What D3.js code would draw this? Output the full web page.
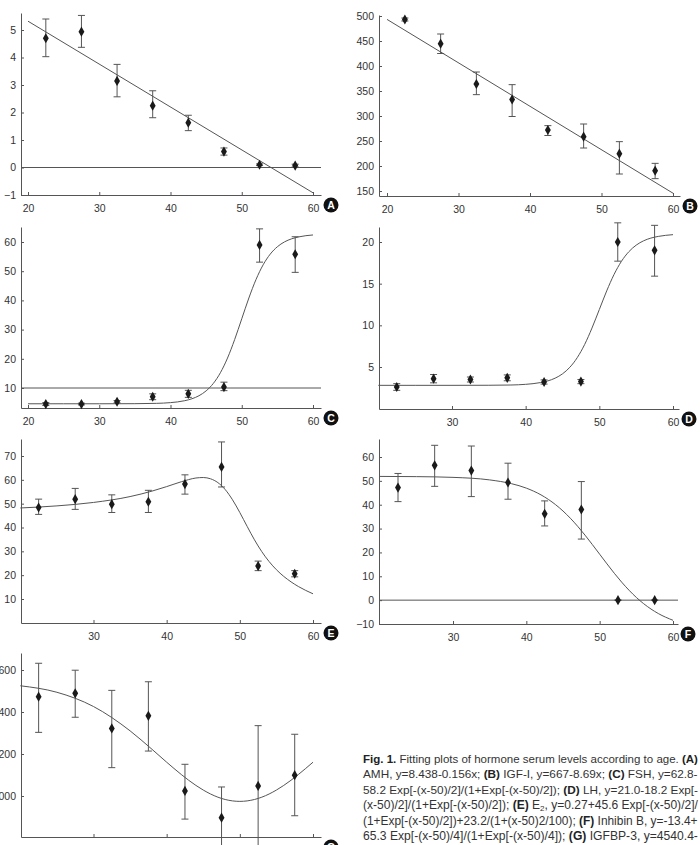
<!DOCTYPE html>
<html>
<head>
<meta charset="utf-8">
<script src="https://cdnjs.cloudflare.com/ajax/libs/d3/7.8.5/d3.min.js"></script>
<style>
body { margin: 0; background: #fff; }
svg { display: block; font-family: "Liberation Sans", Arial, sans-serif; }
</style>
</head>
<body>
<script>
// age groups (midpoints of 5-year bins)
var ages = [22.5, 27.5, 32.5, 37.5, 42.5, 47.5, 52.5, 57.5];

// (A) AMH
var amhMean = [4.70, 4.94, 3.15, 2.25, 1.63, 0.58, 0.10, 0.07];
var amhHi   = [5.40, 5.53, 3.75, 2.79, 1.90, 0.71, 0.13, 0.12];
var amhLo   = [4.03, 4.37, 2.57, 1.81, 1.34, 0.45, 0.07, 0.02];
var lineAges = [20, 60];
var amhFit  = [5.32, -0.92];

// (B) IGF-I
var igfMean = [493, 444.6, 364, 333, 272, 258.7, 224.7, 190.7];
var igfHi   = [496, 464, 388, 362.7, 280.7, 284, 248.7, 205.3];
var igfLo   = [490, 425, 342.7, 299, 261, 236, 184, 174.7];
var igfFit  = [493.2, 145.6];

var fitAges = [20, 25, 30, 35, 38, 40, 42, 43, 44, 45, 46, 47, 48, 49, 50, 51, 52, 53, 54, 55, 56, 57, 58, 60];

// (C) FSH
var fshMean = [4.5, 4.5, 5.3, 7.0, 8.0, 10.3, 59.0, 55.8];
var fshHi   = [5.0, 4.8, 5.7, 8.0, 9.2, 12.0, 64.5, 61.8];
var fshLo   = [4.0, 4.2, 4.9, 6.0, 6.8, 9.1, 53.1, 49.6];
var fshFit  = [4.60, 4.60, 4.60, 4.63, 4.74, 4.99, 5.65, 6.31, 7.36, 9.02, 11.54, 15.22, 20.25, 26.57, 33.70, 40.83, 47.15, 52.18, 55.86, 58.38, 60.04, 61.09, 61.75, 62.41];

// (D) LH
var lhMean = [2.6, 3.6, 3.5, 3.7, 3.2, 3.25, 20.0, 19.0];
var lhHi   = [3.0, 4.1, 3.8, 4.05, 3.45, 3.5, 22.3, 22.0];
var lhLo   = [2.2, 3.1, 3.2, 3.35, 2.95, 3.0, 17.7, 15.9];
var lhFit  = [2.80, 2.80, 2.80, 2.81, 2.84, 2.92, 3.13, 3.33, 3.66, 4.18, 4.97, 6.12, 7.69, 9.67, 11.90, 14.13, 16.11, 17.68, 18.83, 19.62, 20.14, 20.47, 20.67, 20.88];

// (E) E2
var e2Mean = [48.4, 51.9, 49.8, 50.8, 58.2, 65.4, 23.8, 20.6];
var e2Hi   = [51.9, 56.4, 53.7, 55.6, 62.1, 75.9, 25.9, 21.9];
var e2Lo   = [45.5, 47.6, 46.3, 46.3, 54.0, 57.0, 21.9, 19.3];
var e2Fit  = [48.19, 49.07, 50.51, 52.98, 55.27, 57.16, 59.20, 60.10, 60.77, 60.97, 60.43, 58.83, 55.92, 51.62, 46.27, 40.46, 34.84, 29.87, 25.71, 22.29, 19.49, 17.18, 15.24, 12.18];

// (F) Inhibin B
var inhMean = [47.2, 56.5, 54.3, 49.3, 36.2, 38.0, 0, 0];
var inhHi   = [53.1, 64.9, 64.6, 57.4, 41.6, 49.7, 0, 0];
var inhLo   = [41.3, 47.7, 43.4, 42.3, 31.1, 25.6, 0, 0];
var inhFit  = [51.86, 51.77, 51.46, 50.40, 48.80, 46.95, 44.12, 42.23, 39.99, 37.36, 34.34, 30.95, 27.25, 23.31, 19.25, 15.19, 11.25, 7.55, 4.16, 1.14, -1.49, -3.73, -5.62, -8.45];

// (G) IGFBP-3
var bp3Mean = [4473, 4489, 4322, 4382, 4024, 3897, 4048, 4099];
var bp3Hi   = [4632, 4599, 4503, 4544, 4151, 4043, 4335, 4294];
var bp3Lo   = [4303, 4375, 4135, 4214, 3890, 3751, 3761, 3906];
var bp3Fit  = [4524.9, 4493.9, 4426.1, 4310.3, 4222.2, 4161.0, 4102.3, 4075.1, 4050.3, 4028.3, 4009.5, 3994.4, 3983.4, 3976.7, 3974.4, 3976.7, 3983.4, 3994.4, 4009.5, 4028.3, 4050.3, 4075.1, 4102.3, 4161.0];

var xTicksFull = [20, 30, 40, 50, 60];
var xTicksShort = [30, 40, 50, 60];

var width = 700, height = 845;
var ink = "#555";

var svg = d3.select("body").append("svg")
    .attr("width", width)
    .attr("height", height);

// box = axis extent in px; xRef/yRef = two known tick positions used to calibrate the scales
var panels = [
  {key: "A", mean: amhMean, hi: amhHi, lo: amhLo, fx: lineAges, fy: amhFit, box: [21, 321, 13, 195],
   xRef: [[20, 28], [60, 313]], yRef: [[5, 30], [-1, 195]], xTicks: xTicksFull, yTicks: d3.range(-1, 6), ref: 0},
  {key: "B", mean: igfMean, hi: igfHi, lo: igfLo, fx: lineAges, fy: igfFit, box: [379, 680, 15, 196],
   xRef: [[20, 387], [60, 673]], yRef: [[500, 16], [150, 191]], xTicks: xTicksFull, yTicks: d3.range(150, 501, 50)},
  {key: "C", mean: fshMean, hi: fshHi, lo: fshLo, fx: fitAges, fy: fshFit, box: [21, 321, 227, 408],
   xRef: [[20, 28], [60, 313]], yRef: [[60, 242], [10, 388]], xTicks: xTicksFull, yTicks: d3.range(10, 61, 10), ref: 10},
  {key: "D", mean: lhMean, hi: lhHi, lo: lhLo, fx: fitAges, fy: lhFit, box: [379, 679, 227, 409],
   xRef: [[30, 452], [60, 673]], yRef: [[20, 242], [5, 367]], xTicks: xTicksShort, yTicks: [5, 10, 15, 20]},
  {key: "E", mean: e2Mean, hi: e2Hi, lo: e2Lo, fx: fitAges, fy: e2Fit, box: [21, 321, 439, 623],
   xRef: [[30, 93.5], [60, 313]], yRef: [[70, 456], [10, 599]], xTicks: xTicksShort, yTicks: d3.range(10, 71, 10)},
  {key: "F", mean: inhMean, hi: inhHi, lo: inhLo, fx: fitAges, fy: inhFit, box: [379, 678, 439, 624],
   xRef: [[30, 453], [60, 673]], yRef: [[60, 457], [-10, 624]], xTicks: xTicksShort, yTicks: d3.range(-10, 61, 10), ref: 0},
  {key: "G", mean: bp3Mean, hi: bp3Hi, lo: bp3Lo, fx: fitAges, fy: bp3Fit, box: [21, 321, 653, 837],
   xRef: [[30, 93.5], [60, 313]], yRef: [[4600, 670], [4000, 796]], xTicks: xTicksShort, yTicks: d3.range(4000, 4601, 200), noXLabels: true}
];

// scale calibrated on two reference ticks, then stretched to the axis extent
function calScale(ref, lo, hi) {
  var s = d3.scaleLinear().domain([ref[0][0], ref[1][0]]).range([ref[0][1], ref[1][1]]);
  return d3.scaleLinear().domain([s.invert(lo), s.invert(hi)]).range([lo, hi]);
}

panels.forEach(function(p) {
  var left = p.box[0], right = p.box[1], top = p.box[2], bottom = p.box[3];
  var x = calScale(p.xRef, left, right);
  var y = calScale(p.yRef, bottom, top);
  var g = svg.append("g").attr("class", "panel-" + p.key);

  // the G panel's x labels fall below the page edge in the reference
  var xFmt = p.noXLabels ? function() { return ""; } : d3.format("d");
  var xAxis = g.append("g")
      .attr("transform", "translate(0," + bottom + ")")
      .call(d3.axisBottom(x).tickValues(p.xTicks).tickSizeInner(-3).tickSizeOuter(0).tickPadding(10).tickFormat(xFmt));
  var yAxis = g.append("g")
      .attr("transform", "translate(" + left + ",0)")
      .call(d3.axisLeft(y).tickValues(p.yTicks).tickSizeInner(-3).tickSizeOuter(0).tickPadding(5).tickFormat(d3.format("d")));
  [xAxis, yAxis].forEach(function(a) {
    a.selectAll("path, line").attr("stroke", ink);
    a.selectAll("text").attr("fill", "#333").attr("font-size", "10.5px");
  });

  if (p.ref !== undefined) {
    g.append("line")
        .attr("x1", left).attr("x2", right)
        .attr("y1", y(p.ref)).attr("y2", y(p.ref))
        .attr("stroke", ink);
  }

  // fitted curve
  var fit = p.fx.map(function(v, i) { return [v, p.fy[i]]; });
  g.append("path")
      .datum(fit)
      .attr("fill", "none")
      .attr("stroke", ink)
      .attr("stroke-width", 1)
      .attr("d", d3.line()
          .x(function(d) { return x(d[0]); })
          .y(function(d) { return y(d[1]); })
          .curve(d3.curveMonotoneX));

  // error bars
  var pts = ages.map(function(a, i) { return {age: a, m: p.mean[i], hi: p.hi[i], lo: p.lo[i]}; });
  var eb = g.append("g").attr("stroke", ink).attr("stroke-width", 1);
  eb.selectAll(".stem").data(pts).enter().append("line")
      .attr("x1", function(d) { return x(d.age); })
      .attr("x2", function(d) { return x(d.age); })
      .attr("y1", function(d) { return y(d.hi); })
      .attr("y2", function(d) { return y(d.lo); });
  ["hi", "lo"].forEach(function(k) {
    eb.selectAll(".cap-" + k).data(pts).enter().append("line")
        .attr("x1", function(d) { return x(d.age) - 3.5; })
        .attr("x2", function(d) { return x(d.age) + 3.5; })
        .attr("y1", function(d) { return y(d[k]); })
        .attr("y2", function(d) { return y(d[k]); });
  });

  // diamond markers
  g.selectAll(".pt").data(pts).enter().append("path")
      .attr("d", d3.symbol(d3.symbolDiamond, 30))
      .attr("fill", "#1a1a1a")
      .attr("transform", function(d) { return "translate(" + x(d.age) + "," + y(d.m) + ")"; });

  // panel letter badge
  g.append("circle")
      .attr("cx", right + 10).attr("cy", bottom + 10).attr("r", 7.5)
      .attr("fill", "#111");
  g.append("text")
      .attr("x", right + 10).attr("y", bottom + 10)
      .attr("dy", "0.36em")
      .attr("text-anchor", "middle")
      .attr("font-size", "10.5px")
      .attr("font-weight", "bold")
      .attr("fill", "#fff")
      .text(p.key);
});

// caption: lines justified by spreading the spare width over the spaces
var capLines = [
  [["Fig. 1.", 1], [" Fitting plots of hormone serum levels according to age. ", 0], ["(A)", 1]],
  [["AMH, y=8.438-0.156x; ", 0], ["(B)", 1], [" IGF-I, y=667-8.69x; ", 0], ["(C)", 1], [" FSH, y=62.8-", 0]],
  [["58.2 Exp[-(x-50)/2]/(1+Exp[-(x-50)/2]); ", 0], ["(D)", 1], [" LH, y=21.0-18.2 Exp[-", 0]],
  [["(x-50)/2]/(1+Exp[-(x-50)/2]); ", 0], ["(E)", 1], [" E", 0], ["2", 2], [", y=0.27+45.6 Exp[-(x-50)/2]/", 0]],
  [["(1+Exp[-(x-50)/2])+23.2/(1+(x-50)2/100); ", 0], ["(F)", 1], [" Inhibin B, y=-13.4+", 0]],
  [["65.3 Exp[-(x-50)/4]/(1+Exp[-(x-50)/4]); ", 0], ["(G)", 1], [" IGFBP-3, y=4540.4-", 0]],
  [["566.00 Exp[-(x-50)2/250].", 0]]
];
var capWidth = 335;

var cap = svg.append("g")
    .attr("font-family", "'Liberation Sans Narrow', 'Liberation Sans', Arial, sans-serif")
    .attr("font-size", "13px")
    .attr("fill", "#333");

capLines.forEach(function(line, i) {
  var t = cap.append("text")
      .attr("x", 363)
      .attr("y", 762.5 + i * 15.5);
  var shifted = false;
  line.forEach(function(seg) {
    var ts = t.append("tspan").text(seg[0]);
    if (seg[1] === 1) ts.attr("font-weight", "bold").attr("fill", "#222");
    if (seg[1] === 2) { ts.attr("font-size", "8px").attr("dy", 2); shifted = true; }
    else if (shifted) { ts.attr("dy", -2); shifted = false; }
  });
  if (i < capLines.length - 1) {
    var w = t.node().getComputedTextLength();
    var spaces = line.map(function(s) { return s[0]; }).join("").split(" ").length - 1;
    if (w > capWidth) {
      t.attr("font-size", (13 * capWidth / w).toFixed(2) + "px");
    } else if (spaces > 0) {
      t.attr("word-spacing", ((capWidth - w) / spaces).toFixed(2));
    }
  }
});
</script>
</body>
</html>
